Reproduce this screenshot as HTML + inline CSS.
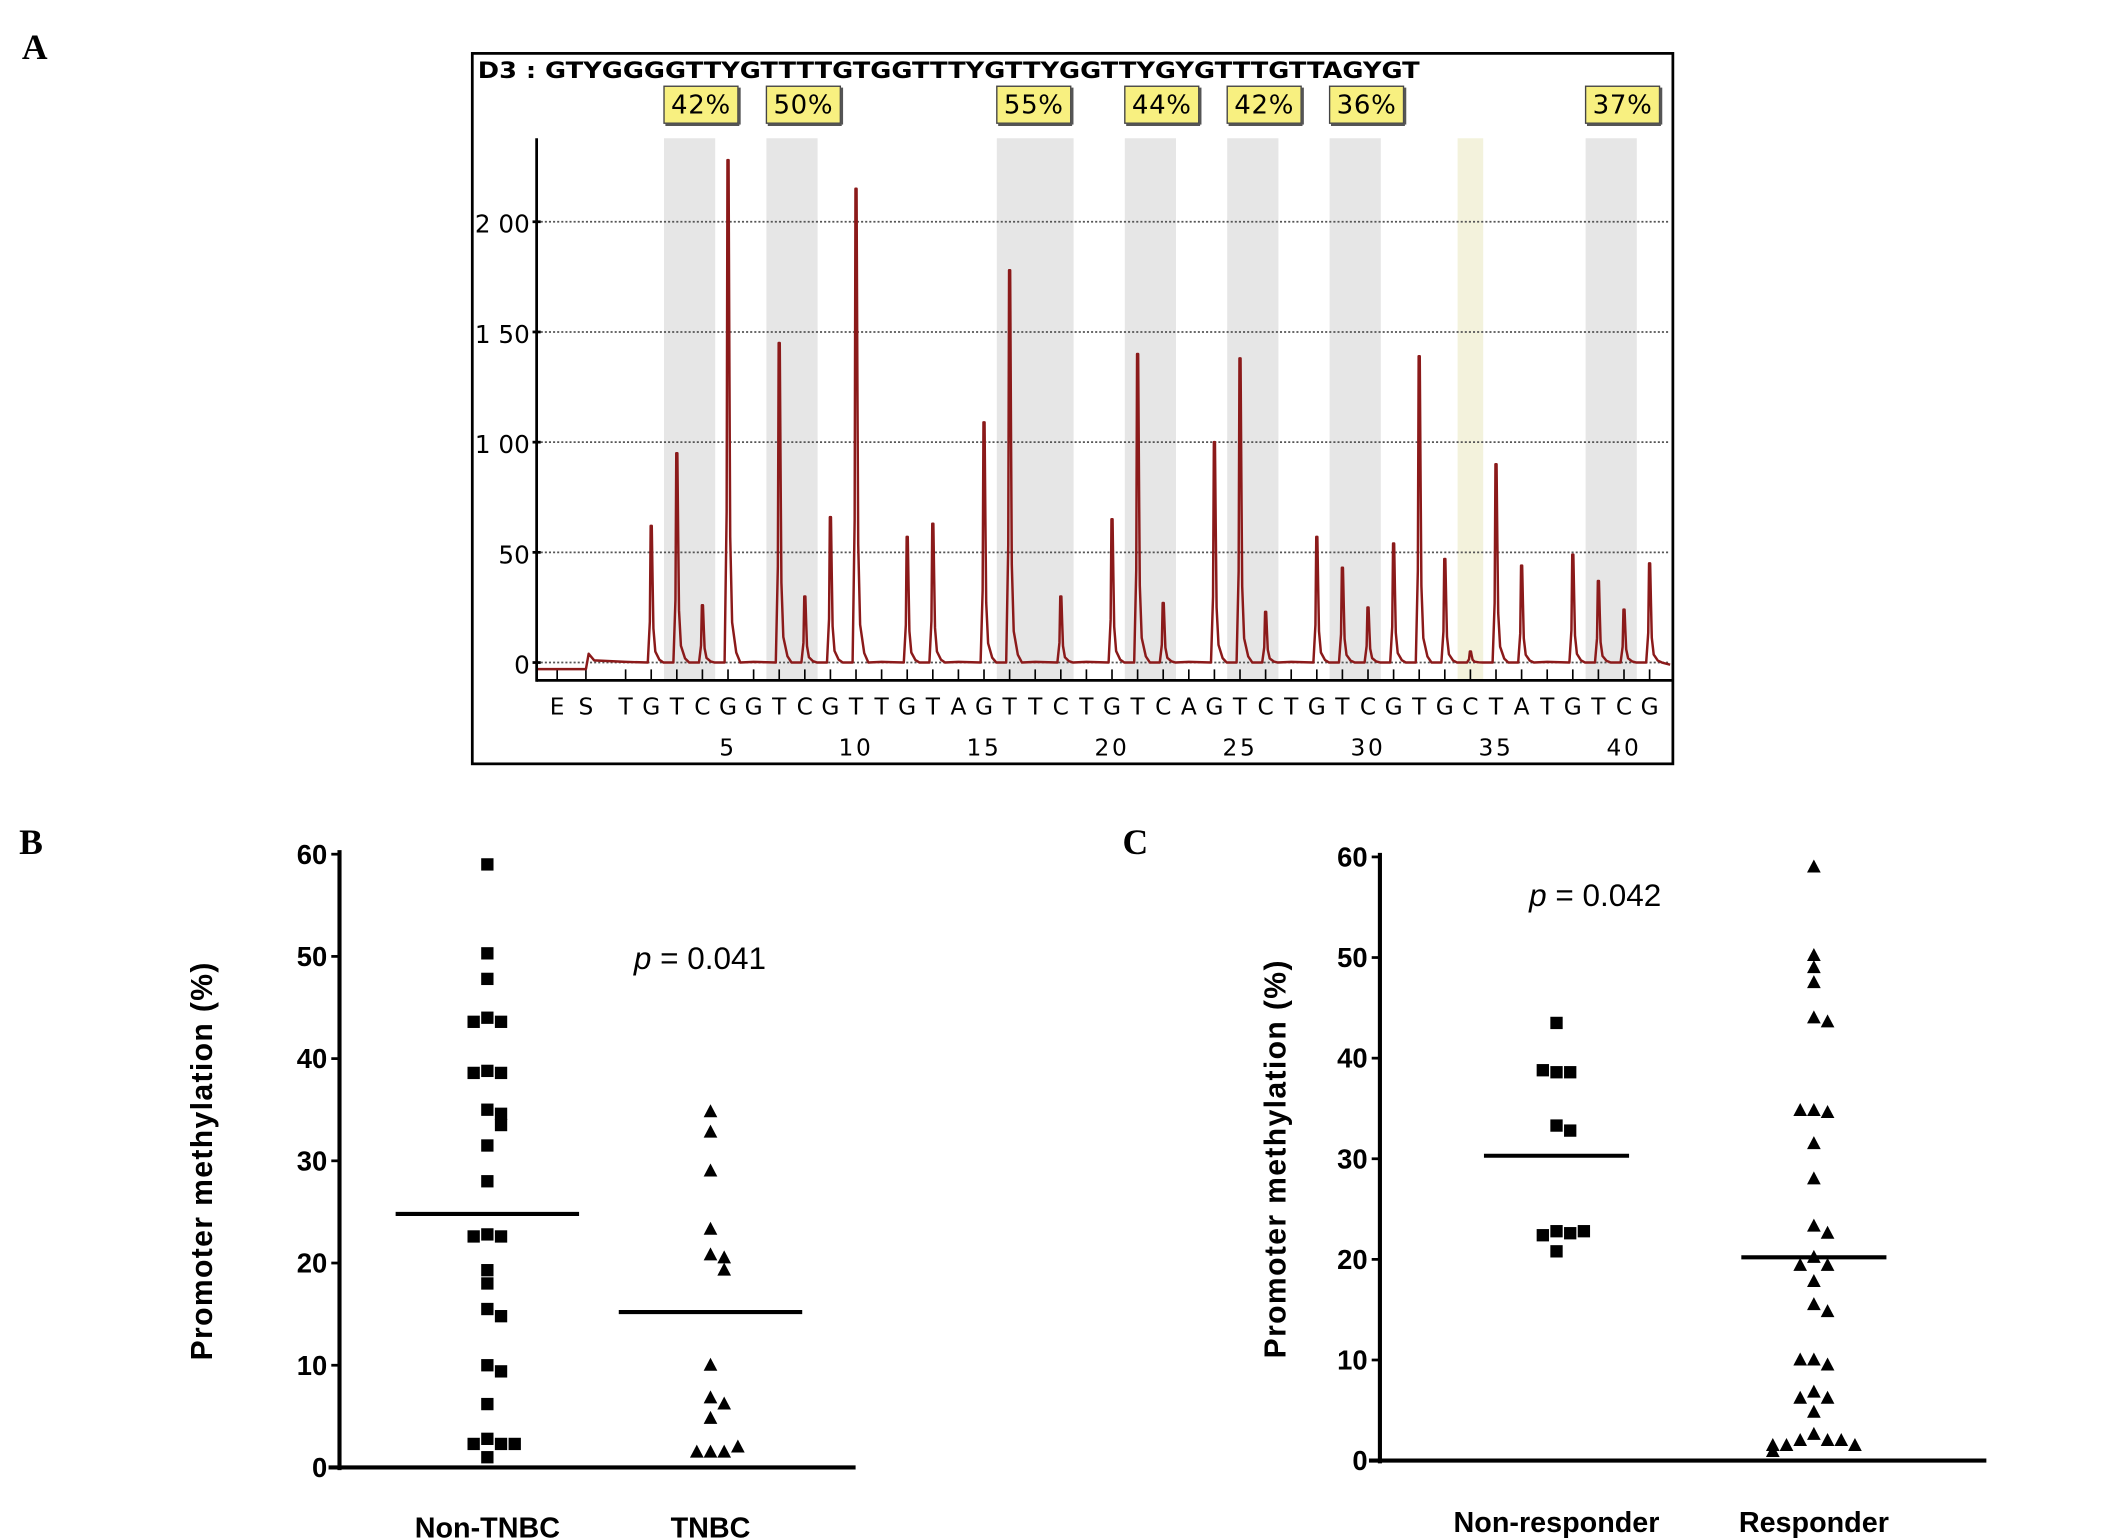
<!DOCTYPE html>
<html><head><meta charset="utf-8">
<style>
html,body{margin:0;padding:0;background:#fff;}
svg{display:block;}
text{font-family:"Liberation Sans",sans-serif;}
.dv{font-family:"DejaVu Sans","Liberation Sans",sans-serif;}
.panel{font-family:"Liberation Serif",serif;font-weight:bold;font-size:26px;}
</style></head>
<body>
<svg id="fig" width="2126" height="1540" viewBox="0 0 1553 1125" preserveAspectRatio="none" xmlns="http://www.w3.org/2000/svg">
<text class="panel" x="16" y="43">A</text>
<text class="panel" x="14" y="624">B</text>
<text class="panel" x="820" y="624">C</text>
<g id="pyro"></g>
<g id="chartB"></g>
<g id="chartC"></g>
</svg>
<script>
// ---- Panel A data ----
const dispensation = ["T","G","T","C","G","G","T","C","G","T","T","G","T","A","G","T","T","C","T","G","T","C","A","G","T","C","T","G","T","C","G","T","G","C","T","A","T","G","T","C","G"];
const peakHeights = [0,62,95,26,228,0,145,30,66,215,0,57,63,0,109,178,0,30,0,65,140,27,0,100,138,23,0,57,43,25,54,139,47,5,90,44,0,49,37,24,45];
const yTicksA = [0,50,100,150,200];
const yTickLabelsA = ["0","50","1 00","1 50","2 00"];
const cpgBands = [[3,4],[7,8],[16,18],[21,22],[25,26],[29,30],[39,40]];
const cpgPercents = ["42%","50%","55%","44%","42%","36%","37%"];
const controlBand = [34,34];

// ---- Panel B data ----
const catsB = ["Non-TNBC","TNBC"];
const nonTNBC = [59,50.3,47.8,44,43.6,43.6,38.8,38.6,38.6,35,34.6,33.5,31.5,28,22.8,22.6,22.6,19.3,18,15.5,14.8,10,9.4,6.2,2.8,2.3,2.3,2.3,1];
const tnbc = [34.8,32.8,29,23.3,20.8,20.5,19.3,10,6.8,6.2,4.8,1.5,1.5,1.5,2];
const mediansB = [24.8,15.2];
const pB = "0.041";

// ---- Panel C data ----
const catsC = ["Non-responder","Responder"];
const nonResp = [43.5,38.6,38.6,38.8,33.3,32.8,22.8,22.6,22.4,22.8,20.8];
const resp = [59,50.2,49,47.5,44,43.6,34.8,34.6,34.8,31.5,28,23.3,22.6,20.2,19.4,19.4,17.8,15.5,14.8,10,9.5,10,6.8,6.2,6.2,4.8,2.6,2,2,2,1.5,1.5,1.5,0.9];
const mediansC = [30.3,20.2];
const pC = "0.042";

const NS = "http://www.w3.org/2000/svg";
function mk(parent, tag, attrs, txt){
  const e = document.createElementNS(NS, tag);
  for (const k in attrs) e.setAttribute(k, attrs[k]);
  if (txt !== undefined) e.textContent = txt;
  parent.appendChild(e);
  return e;
}

// ===== Panel A =====
(function(){
  const g = document.getElementById('pyro');
  const X0 = 457, DX = 18.7, Y0 = 484, KY = 1.61;
  const px = p => X0 + (p-1)*DX;
  const py = v => Y0 - v*KY;
  let e = mk(g,'rect',{x:345,y:39,width:877,height:519,fill:'#fff',stroke:'#000','stroke-width':2});
   
  // bands
  cpgBands.forEach((b,i)=>{
    const x1 = px(b[0]) - DX/2, x2 = px(b[1]) + DX/2;
    let r = mk(g,'rect',{x:x1,y:101,width:x2-x1,height:396,fill:'#e6e6e6'});
     
    let bx = mk(g,'rect',{x:x1,y:63,width:54,height:27,fill:'#f8f080',stroke:'#444','stroke-width':1});
     
    mk(g,'line',{x1:x1+1,y1:91,x2:x1+55,y2:91,stroke:'#555','stroke-width':2});
    mk(g,'line',{x1:x1+55,y1:64,x2:x1+55,y2:91,stroke:'#555','stroke-width':2});
    let t = mk(g,'text',{x:x1+27,y:83,'text-anchor':'middle','font-size':19,class:'dv','letter-spacing':'0.5'},cpgPercents[i]);
     
  });
  let cb = mk(g,'rect',{x:px(controlBand[0])-DX/2,y:101,width:DX,height:396,fill:'#f3f2dc'});
   
  // header seq
  let hs = mk(g,'text',{x:349,y:57,'font-size':16,class:'dv','font-weight':'bold',textLength:688,lengthAdjust:'spacingAndGlyphs'},'D3 : GTYGGGGTTYGTTTTGTGGTTTYGTTYGGTTYGYGTTTGTTAGYGT');
   
  // gridlines
  yTicksA.forEach((v,i)=>{
    let l = mk(g,'line',{x1:392,y1:py(v),x2:1220,y2:py(v),stroke:'#555','stroke-width':1.3,'stroke-dasharray':'1.5 1.5'});
     
    mk(g,'line',{x1:389,y1:py(v),x2:395,y2:py(v),stroke:'#000','stroke-width':2});
    let t = mk(g,'text',{x:387,y:py(v)+8,'text-anchor':'end','font-size':18,class:'dv'},yTickLabelsA[i]);
     
  });
  // axes
  let ya = mk(g,'line',{x1:392,y1:101,x2:392,y2:498,stroke:'#000','stroke-width':2});
   
  let xa = mk(g,'line',{x1:392,y1:497,x2:1221,y2:497,stroke:'#000','stroke-width':2});
   
  // ticks & letters
  const tickPos = [-1,0].concat(dispensation.map((d,i)=>i+1));
  const labels = ["E","S"].concat(dispensation);
  tickPos.forEach((p,i)=>{
    const x = p<=0 ? (p===-1?407:428) : px(p);
    mk(g,'line',{x1:x,y1:489,x2:x,y2:497,stroke:'#000','stroke-width':1.2});
    let t = mk(g,'text',{x:x,y:522,'text-anchor':'middle','font-size':17,class:'dv'},labels[i]);
     
  });
  for (let p=5;p<=40;p+=5){
    let t = mk(g,'text',{x:px(p),y:552,'text-anchor':'middle','font-size':17,class:'dv','letter-spacing':'2'},String(p));
     
  }
  // trace
  let d = `M393 ${py(-3)} L428 ${py(-3)} L430 ${py(4)} L434 ${py(1)}`;
  peakHeights.forEach((h,i)=>{
    const x = px(i+1);
    if (h>0){
      d += ` L${x-2.5} ${py(0)} L${x-1} ${py(h*0.3)} L${x-0.4} ${py(h)} L${x+0.4} ${py(h)} L${x+1} ${py(h*0.6)} L${x+1.6} ${py(h*0.25)} L${x+3} ${py(h*0.08)} L${x+6} ${py(h*0.02)} L${x+9} ${py(0)}`;
    } else {
      d += ` L${x} ${py(0.3)}`;
    }
  });
  d += ` L1220 ${py(-1)}`;
  let tr = mk(g,'path',{d:d,fill:'none',stroke:'#8b1a1a','stroke-width':1.8,'stroke-linejoin':'round'});
   
})();

// ===== Scatter charts =====
function scatter(gid, o){
  const g = document.getElementById(gid);
  const y = v => o.y0 - (o.y0-o.y60)*v/60;
  let ya = mk(g,'line',{x1:o.ax,y1:o.y60-3,x2:o.ax,y2:o.y0+2,stroke:'#000','stroke-width':3});
   
  let xa = mk(g,'line',{x1:o.ax-8,y1:o.y0,x2:o.xend,y2:o.y0,stroke:'#000','stroke-width':3});
   
  for (let v=0; v<=60; v+=10){
    mk(g,'line',{x1:o.ax-6,y1:y(v),x2:o.ax,y2:y(v),stroke:'#000','stroke-width':2});
    let t = mk(g,'text',{x:o.ax-9,y:y(v)+7,'text-anchor':'end','font-size':20,'font-weight':'bold'},String(v));
     
  }
  let yt = mk(g,'text',{x:0,y:0,'text-anchor':'middle','font-size':22,'font-weight':'bold','letter-spacing':'1',transform:`translate(${o.titleX},${(o.y0+o.y60)/2}) rotate(-90)`},'Promoter methylation (%)');
   
  o.cats.forEach((c,ci)=>{
    const cx = o.cx[ci];
    let t = mk(g,'text',{x:cx,y:o.labelY,'text-anchor':'middle','font-size':21,'font-weight':'bold'},c);
     
    const vals = o.series[ci];
    const placed = [];
    vals.forEach(v=>{
      const k = placed.filter(w=>Math.abs(w-v)<1.2).length;
      placed.push(v);
      const off = k===0?0:(k%2?1:-1)*Math.ceil(k/2)*10;
      const x = cx+off, yy = y(v);
      let m;
      if (ci===0 && o.firstSquare){
        m = mk(g,'rect',{x:x-4.5,y:yy-4.5,width:9,height:9,fill:'#000'});
      } else {
        m = mk(g,'polygon',{points:`${x},${yy-5.5} ${x+5},${yy+4} ${x-5},${yy+4}`,fill:'#000'});
      }
       
    });
    let ml = mk(g,'line',{x1:cx-o.medHalf,y1:y(o.medians[ci]),x2:cx+o.medHalf,y2:y(o.medians[ci]),stroke:'#000','stroke-width':3});
     
  });
  let pt = mk(g,'text',{x:o.pX,y:o.pY,'font-size':23});
   
  mk(pt,'tspan',{'font-style':'italic'},'p');
  mk(pt,'tspan',{},' = '+o.p);
}
scatter('chartB',{ax:248,y0:1072,y60:624,xend:625,titleX:155,cats:catsB,cx:[356,519],series:[nonTNBC,tnbc],medians:mediansB,medHalf:67,firstSquare:true,p:pB,pX:463,pY:708,labelY:1123});
scatter('chartC',{ax:1008,y0:1067,y60:626,xend:1451,titleX:939,cats:catsC,cx:[1137,1325],series:[nonResp,resp],medians:mediansC,medHalf:53,firstSquare:true,p:pC,pX:1117,pY:662,labelY:1119});
</script>
</body></html>
